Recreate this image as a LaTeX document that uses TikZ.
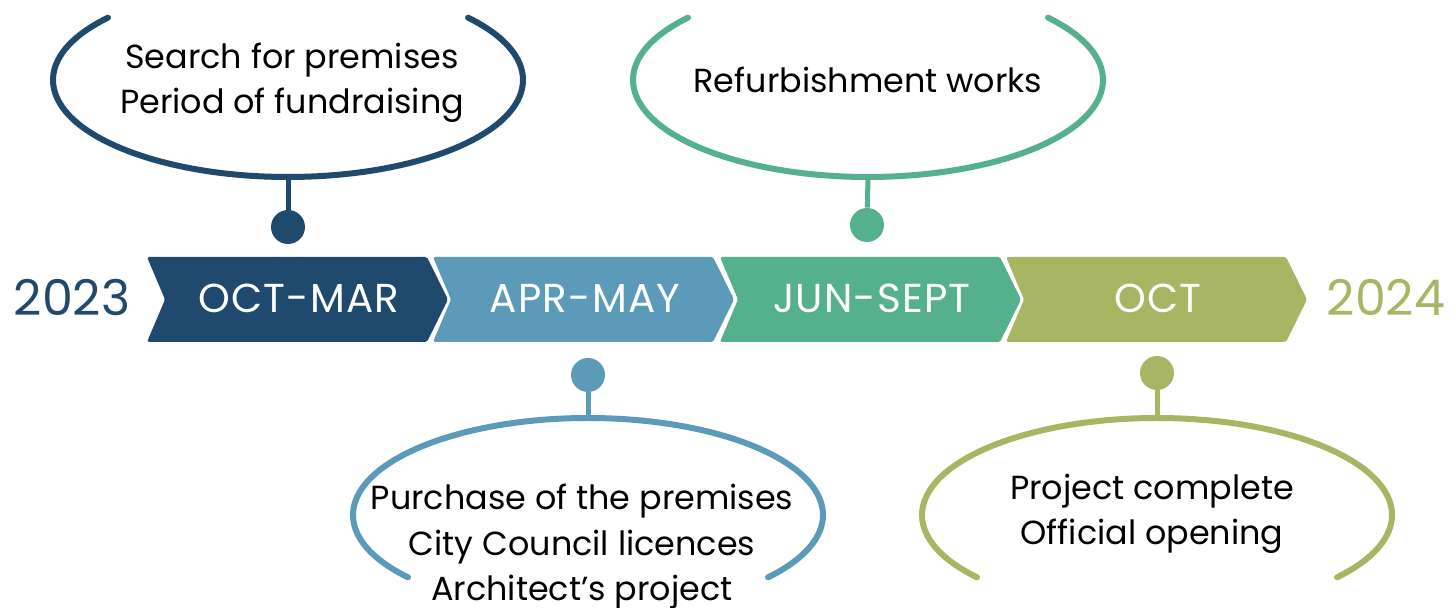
\documentclass[tikz,border=0pt]{standalone}
\usepackage{fontspec}
\setmainfont{Poppins}
\definecolor{navy}{HTML}{1F4A6E}
\definecolor{steel}{HTML}{5B9BB9}
\definecolor{jade}{HTML}{55B08E}
\definecolor{olive}{HTML}{A8B562}
\tikzset{
	period/.style={text=white, anchor=base, font=\fontsize{23}{27}\selectfont\addfontfeatures{LetterSpace=3}},
	year/.style={anchor=base, font=\fontsize{28}{33}\selectfont},
	note/.style={align=center, anchor=base, font=\fontsize{19}{26}\selectfont},
	dot/.style={circle, fill=#1, inner sep=0pt, minimum size=0.68cm},
	rim/.style={#1, line width=0.12cm, line cap=round},
	stem/.style={#1, line width=0.1cm}
}
\begin{document}
\begin{tikzpicture}[x=0.02cm, y=0.02cm]
	\useasboundingbox (0,0) rectangle (1451,608);
	\foreach \x/\c/\t/\n in {147/navy/OCT-MAR/P1, 433/steel/APR-MAY/P2, 720/jade/JUN-SEPT/P3, 1006/olive/OCT/P4} {
		\fill[\c, rounded corners=1pt] (\x,351) -- (\x+280,351) -- (\x+301,308.5) -- (\x+280,266) -- (\x,266) -- (\x+18,308.5) -- cycle;
		\node[period] (\n) at (\x+152,295) {\t};
	}
	\node[year, text=navy] (Y1) at (72,292) {2023};
	\node[year, text=olive] (Y2) at (1386,292) {2024};

	\node[dot=navy] (D1) at (288,381) {};
	\node[dot=jade] (D3) at (867,383) {};
	\node[dot=steel] (D2) at (588,233) {};
	\node[dot=olive] (D4) at (1157,235) {};

	\coordinate (B1) at (288,431);
	\coordinate (B3) at (868,431);
	\coordinate (B2) at (588,190);
	\coordinate (B4) at (1157,190);

	\draw[rim=navy] (288,528) ++(140:235 and 97) arc[start angle=140, end angle=400, x radius=235, y radius=97];
	\draw[rim=jade] (868,528) ++(140:235 and 97) arc[start angle=140, end angle=400, x radius=235, y radius=97];
	\draw[rim=steel] (588,93) ++(220:235 and 97) arc[start angle=220, end angle=-40, x radius=235, y radius=97];
	\draw[rim=olive] (1157,93) ++(220:235 and 97) arc[start angle=220, end angle=-40, x radius=235, y radius=97];

	\draw[stem=navy] (D1) -- (B1);
	\draw[stem=jade] (D3) -- (B3);
	\draw[stem=steel] (D2) -- (B2);
	\draw[stem=olive] (D4) -- (B4);

	\node[note] (N1) at (292,494) {Search for premises\\Period of fundraising};
	\node[note] (N3) at (868,515) {Refurbishment works};
	\node[note] (N2) at (582,7) {Purchase of the premises\\City Council licences\\Architect’s project};
	\node[note] (N4) at (1152,63) {Project complete\\Official opening};
\end{tikzpicture}
\end{document}
